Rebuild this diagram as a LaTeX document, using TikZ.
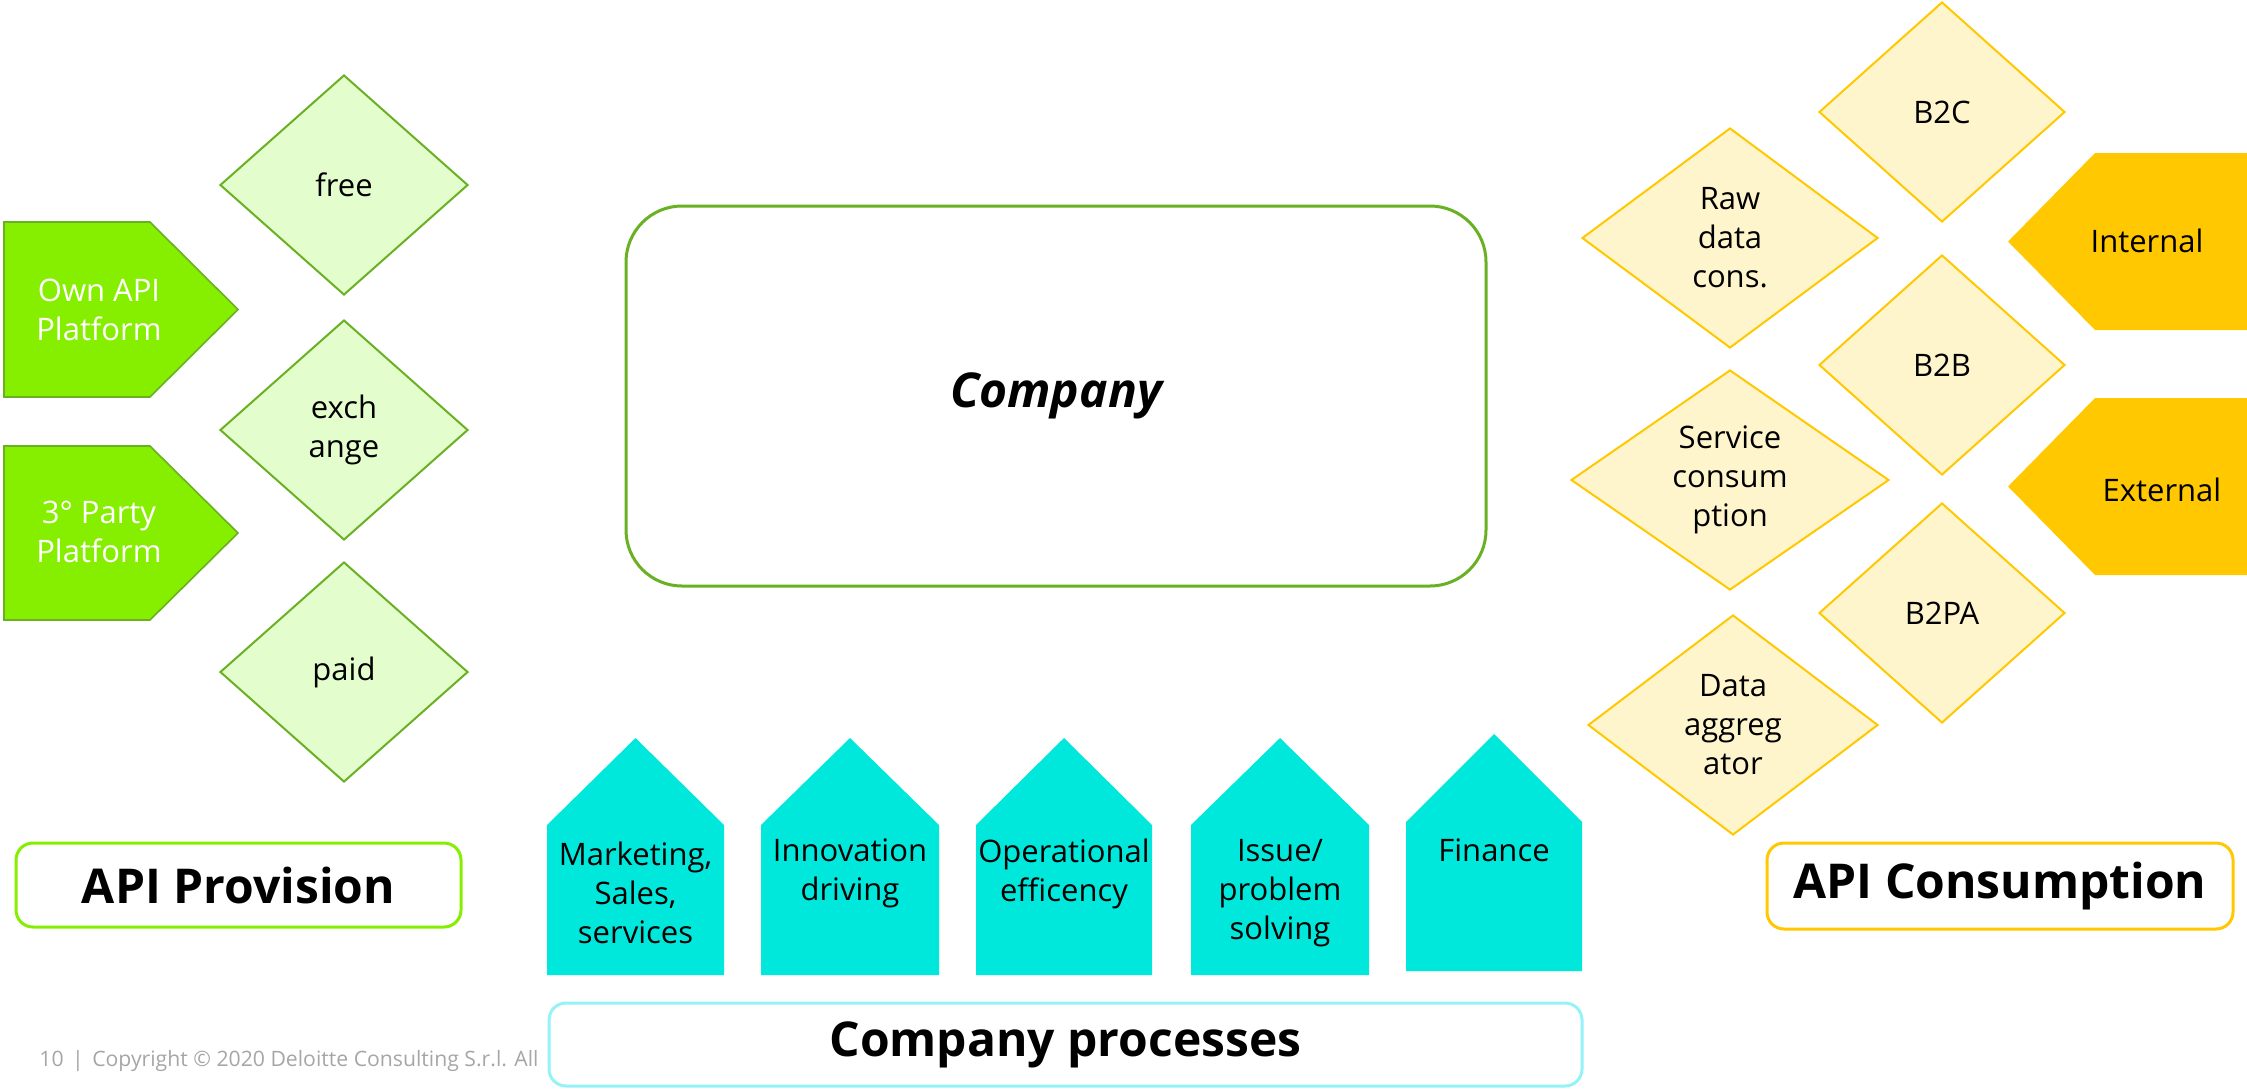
\documentclass[tikz,border=0pt]{standalone}
\usepackage{fontspec}
\setmainfont{Open Sans}
\usetikzlibrary{shapes, positioning}

\definecolor{lime}{HTML}{86EF00}
\definecolor{gline}{HTML}{6AB023}
\definecolor{gpale}{HTML}{E4FDCD}
\definecolor{ypale}{HTML}{FFF5CC}
\definecolor{yline}{HTML}{FFC800}
\definecolor{turq}{HTML}{00E8DC}
\definecolor{cline}{HTML}{93F3F6}
\definecolor{cgray}{HTML}{A6A6A6}

\begin{document}
\begin{tikzpicture}[x=0.5pt, y=-0.5pt,
  every node/.style = {font=\fontsize{15.5}{19.5}\selectfont, align=center, inner sep=0pt},
  gdia/.style = {diamond, aspect=1.4, draw=gline, fill=gpale, line width=1pt, minimum width=124pt, minimum height=110pt},
  ydia/.style = {diamond, aspect=1.4, draw=yline, fill=ypale, line width=1pt, minimum height=110pt},
  plat/.style = {draw=gline, fill=lime, line width=0.8pt},
  flag/.style = {fill=yline},
  house/.style = {fill=turq},
  title/.style = {font=\fontsize{24}{28}\selectfont\bfseries},
  frame/.style = {draw, fill=white, line width=1.5pt, rounded corners=8.5pt}]
\useasboundingbox (0,0) rectangle (2247,1088);

% provision side
\filldraw[plat] (4,222) -- (150,222) -- (238,309.5) -- (150,397) -- (4,397) -- cycle;
\filldraw[plat] (4,446) -- (150,446) -- (238,533) -- (150,620) -- (4,620) -- cycle;
\node[text=white] (own) at (99,310) {Own API\\Platform};
\node[text=white] (third) at (99,532) {3° Party\\Platform};

\node[gdia] (free) at (344,185) {free};
\node[gdia] (exch) at (344,430) {exch\\ange};
\node[gdia] (paid) at (344,672) {paid};

\node[frame, draw=lime, title, minimum width=222.5pt, minimum height=42pt] (prov) at (238.5,885) {API Provision};

% company
\node[draw=gline, line width=1.5pt, rounded corners=28pt, minimum width=430pt, minimum height=190pt,
  font=\fontsize{24}{28}\selectfont\bfseries\itshape] (comp) at (1056,396) {Company};

% consumption side
\fill[flag] (2250,153) -- (2095,153) -- (2008,241.5) -- (2095,330) -- (2250,330) -- cycle;
\fill[flag] (2250,398) -- (2095,398) -- (2008,486.5) -- (2095,575) -- (2250,575) -- cycle;
\node (int) at (2147,241) {Internal};
\node (ext) at (2162,490) {External};

\node[ydia, minimum width=123pt] (b2c) at (1942,112) {B2C};
\node[ydia, minimum width=123pt] (b2b) at (1942,365) {B2B};
\node[ydia, minimum width=123pt] (b2pa) at (1942,613) {B2PA};
\node[ydia, minimum width=148pt] (raw) at (1730,238) {Raw\\data\\cons.};
\node[ydia, minimum width=159pt] (serv) at (1730,480) {Service\\consum\\ption};
\node[ydia, minimum width=145pt] (aggr) at (1733,725) {Data\\aggreg\\ator};

\node[frame, draw=yline, title, minimum width=233pt, minimum height=43pt] (cons) at (2000,886) {API Consumption};

% company processes
\fill[house] (547,975) -- (547,825) -- (635.5,738) -- (724,825) -- (724,975) -- cycle;
\fill[house] (761,975) -- (761,825) -- (850,738) -- (939,825) -- (939,975) -- cycle;
\fill[house] (976,975) -- (976,825) -- (1064,738) -- (1152,825) -- (1152,975) -- cycle;
\fill[house] (1191,975) -- (1191,825) -- (1280,738) -- (1369,825) -- (1369,975) -- cycle;
\fill[house] (1406,971) -- (1406,822) -- (1494,734) -- (1582,822) -- (1582,971) -- cycle;
\node (mkt) at (635.5,893) {Marketing,\\Sales,\\services};
\node (inno) at (850,873.5) {Innovation\\driving};
\node (oper) at (1064,873.5) {Operational\\efficency};
\node (issue) at (1280,893) {Issue/\\problem\\solving};
\node (fin) at (1494,850) {Finance};

\node[anchor=west, text=cgray, font=\fontsize{10.6}{13}\selectfont] (copy) at (39,1061)
  {10\hspace{0.4em}|\hspace{0.4em}Copyright © 2020 Deloitte Consulting S.r.l. All};
\node[frame, draw=cline, title, minimum width=516.5pt, minimum height=41.5pt] (proc) at (1065.5,1044.5) {Company processes};
\end{tikzpicture}
\end{document}
